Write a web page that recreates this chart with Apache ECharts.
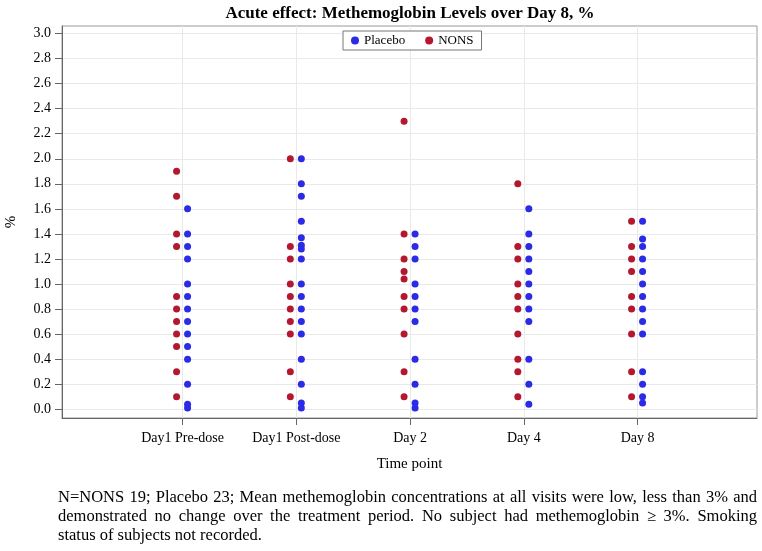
<!DOCTYPE html>
<html>
<head>
<meta charset="utf-8">
<script src="https://cdn.jsdelivr.net/npm/echarts@6/dist/echarts.min.js"></script>
<style>
  html, body { margin: 0; padding: 0; background: #fff; }
  #wrap { position: relative; width: 762px; height: 551px; }
  #chart { position: absolute; left: 0; top: 0; width: 762px; height: 551px; }
  #note { position: absolute; left: 58px; top: 487px; width: 699px;
          font-family: "Liberation Serif", "Times New Roman", serif; font-size: 16.5px;
          line-height: 19px; color: #000; }
  #note div.j { text-align: justify; text-align-last: justify; white-space: nowrap; }
</style>
</head>
<body>
<div id="wrap">
  <div id="chart"></div>
  <div id="note">
    <div class="j">N=NONS 19; Placebo 23; Mean methemoglobin concentrations at all visits were low, less than 3% and</div>
    <div class="j">demonstrated no change over the treatment period. No subject had methemoglobin ≥ 3%. Smoking</div>
    <div>status of subjects not recorded.</div>
  </div>
</div>
<script>
const categories = ['Day1 Pre-dose', 'Day1 Post-dose', 'Day 2', 'Day 4', 'Day 8'];
const yTicks = [0, 0.2, 0.4, 0.6, 0.8, 1.0, 1.2, 1.4, 1.6, 1.8, 2.0, 2.2, 2.4, 2.6, 2.8, 3.0];

const nonsPre   = [1.9, 1.7, 1.4, 1.3, 0.9, 0.8, 0.7, 0.6, 0.5, 0.3, 0.1];
const nonsPost  = [2.0, 1.3, 1.2, 1.0, 0.9, 0.8, 0.7, 0.6, 0.3, 0.1];
const nonsDay2  = [2.3, 1.4, 1.2, 1.1, 1.04, 0.9, 0.8, 0.6, 0.3, 0.1];
const nonsDay4  = [1.8, 1.3, 1.2, 1.0, 0.9, 0.8, 0.6, 0.4, 0.3, 0.1];
const nonsDay8  = [1.5, 1.3, 1.2, 1.1, 0.9, 0.8, 0.6, 0.3, 0.1];

const placeboPre  = [1.6, 1.4, 1.3, 1.2, 1.0, 0.9, 0.8, 0.7, 0.6, 0.5, 0.4, 0.2, 0.04, 0.01];
const placeboPost = [2.0, 1.8, 1.7, 1.5, 1.37, 1.31, 1.28, 1.2, 1.0, 0.9, 0.8, 0.7, 0.6, 0.4, 0.2, 0.05, 0.01];
const placeboDay2 = [1.4, 1.3, 1.2, 1.0, 0.9, 0.8, 0.7, 0.4, 0.2, 0.05, 0.01];
const placeboDay4 = [1.6, 1.4, 1.3, 1.2, 1.1, 1.0, 0.9, 0.8, 0.7, 0.4, 0.2, 0.04];
const placeboDay8 = [1.5, 1.36, 1.3, 1.2, 1.1, 1.0, 0.9, 0.8, 0.7, 0.6, 0.3, 0.2, 0.1, 0.05];

const nonsByVisit = [nonsPre, nonsPost, nonsDay2, nonsDay4, nonsDay8];
const placeboByVisit = [placeboPre, placeboPost, placeboDay2, placeboDay4, placeboDay8];

function toPoints(groups) {
  const out = [];
  groups.forEach((vals, i) => vals.forEach(v => out.push([i, v])));
  return out;
}

const serif = '"Liberation Serif", "Times New Roman", serif';
const chart = echarts.init(document.getElementById('chart'), null, { renderer: 'canvas' });
chart.setOption({
  animation: false,
  backgroundColor: '#fff',
  title: {
    text: 'Acute effect: Methemoglobin Levels over Day 8, %',
    left: 410, textAlign: 'center', top: 5, padding: 0,
    textStyle: { fontFamily: serif, fontWeight: 'bold', fontSize: 17, color: '#000' }
  },
  legend: {
    data: ['Placebo', 'NONS'],
    left: 343, top: 31,
    orient: 'horizontal',
    itemWidth: 8, itemHeight: 8, itemGap: 20,
    padding: [3, 8, 3, 8],
    borderColor: '#777', borderWidth: 1, backgroundColor: '#fff',
    textStyle: { fontFamily: serif, fontSize: 13, color: '#000' }
  },
  grid: {
    left: 62, right: 5, top: 26, bottom: 133,
    outerBoundsMode: 'none', containLabel: false,
    show: true, borderColor: '#999', borderWidth: 1
  },
  xAxis: {
    type: 'value',
    min: -1.06, max: 5.05,
    name: 'Time point', nameLocation: 'middle', nameGap: 39,
    nameTextStyle: { fontFamily: serif, fontSize: 15, color: '#000' },
    axisLine: { show: true, onZero: false, lineStyle: { color: '#666' } },
    axisTick: { show: true, length: 7, customValues: [0, 1, 2, 3, 4], lineStyle: { color: '#666' } },
    axisLabel: {
      customValues: [0, 1, 2, 3, 4], margin: 13,
      fontFamily: serif, fontSize: 14, color: '#000',
      formatter: v => categories[Math.round(v)] || ''
    },
    splitLine: { show: true, lineStyle: { color: '#e9e9e9' } }
  },
  yAxis: {
    type: 'value',
    min: -0.07, max: 3.06,
    name: '%', nameLocation: 'middle', nameGap: 43, nameRotate: 90,
    nameTextStyle: { fontFamily: serif, fontSize: 15, color: '#000' },
    axisLine: { show: true, onZero: false, lineStyle: { color: '#666' } },
    axisTick: { show: true, length: 7, customValues: yTicks, lineStyle: { color: '#666' } },
    axisLabel: {
      customValues: yTicks, margin: 11,
      fontFamily: serif, fontSize: 14, color: '#000',
      formatter: v => v.toFixed(1)
    },
    splitLine: { show: true, lineStyle: { color: '#e9e9e9' } }
  },
  series: [
    {
      name: 'Placebo', type: 'scatter',
      data: toPoints(placeboByVisit),
      symbol: 'circle', symbolSize: 7, symbolOffset: [5, 0],
      itemStyle: { color: '#2b2be6', opacity: 1 }
    },
    {
      name: 'NONS', type: 'scatter',
      data: toPoints(nonsByVisit),
      symbol: 'circle', symbolSize: 7, symbolOffset: [-6, 0],
      itemStyle: { color: '#b3182f', opacity: 1 }
    }
  ]
});
</script>
</body>
</html>
